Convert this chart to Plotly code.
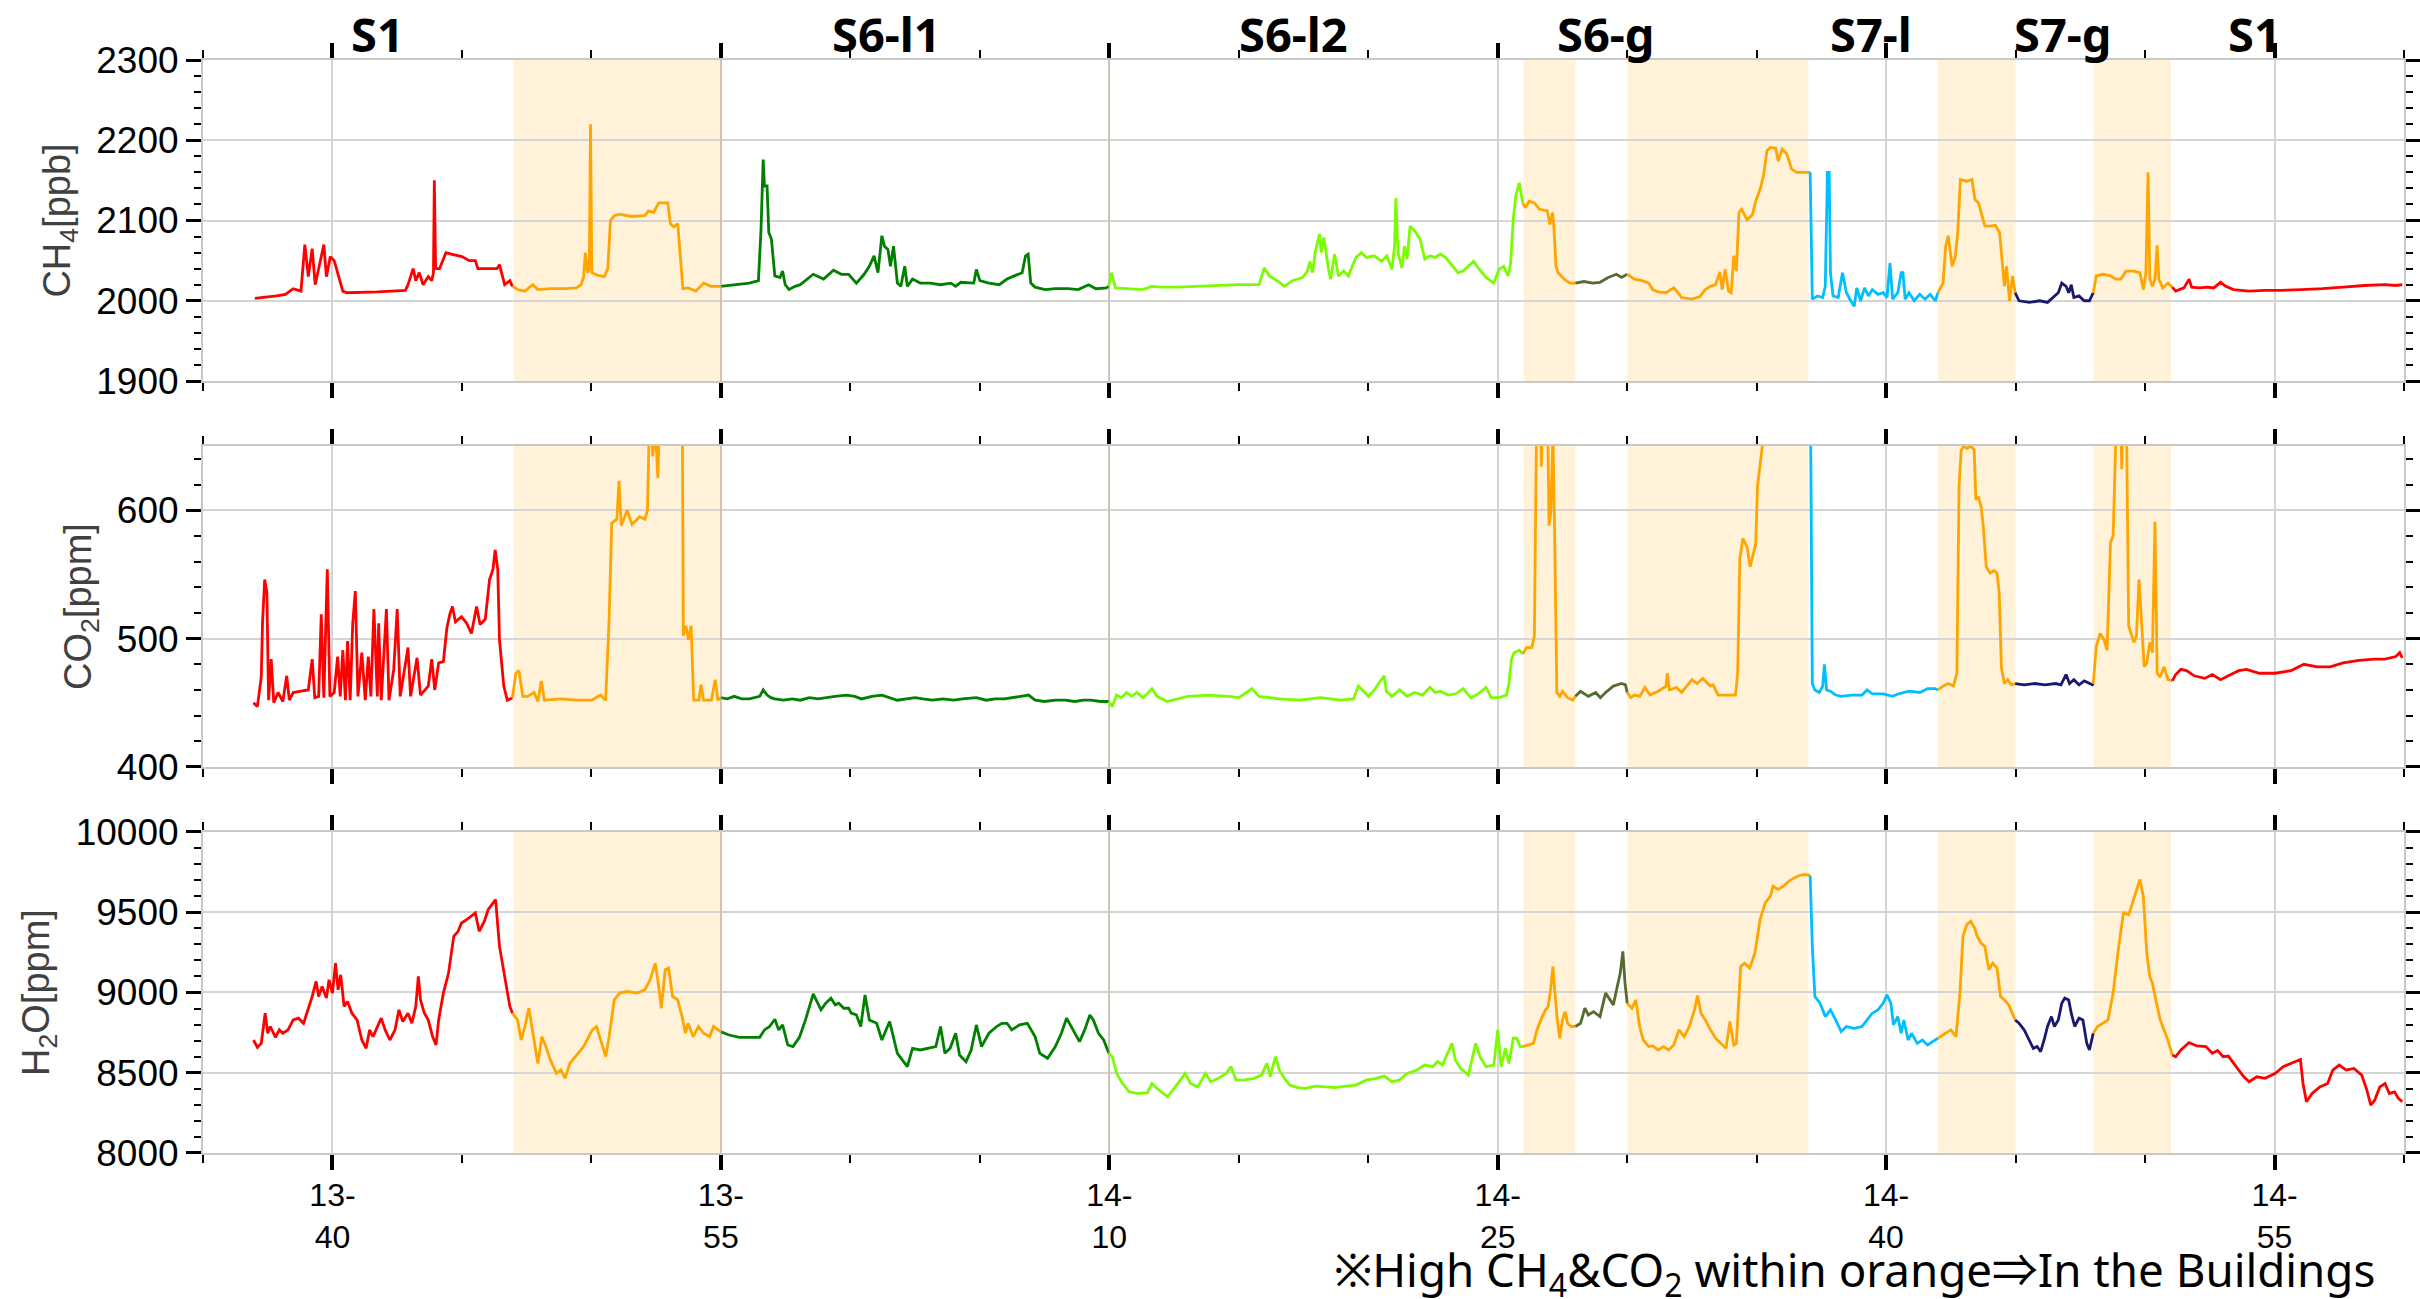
import pandas as pd
import plotly.graph_objects as go

DAY = "2024-01-01"
T0 = pd.Timestamp(f"{DAY} 13:35:00")   # time values below are seconds after 13:35:00

# ================= CH4 [ppb] =================
CH4_S1A_T = [120,144,170,191,209,227,236,244,253,260,268,280,286,295,304,315,324,333,404,469,475,487,493,501,510,522,530,534,536,539,548,563,575,600,617,631,637,664,681,687,699,711,717]
CH4_S1A_V = [2003,2004,2006,2008,2015,2012,2070,2030,2065,2020,2040,2070,2030,2055,2050,2030,2012,2010,2011,2013,2020,2040,2025,2035,2020,2030,2025,2035,2150,2040,2040,2060,2058,2055,2050,2050,2040,2040,2040,2045,2020,2025,2018]
CH4_O1_T = [717,729,746,764,776,805,841,865,876,882,886,891,895,898,901,913,930,938,944,953,965,994,1024,1032,1044,1056,1077,1083,1091,1100,1112,1124,1142,1160,1177,1199]
CH4_O1_V = [2018,2014,2012,2020,2014,2015,2015,2016,2020,2030,2060,2035,2040,2220,2035,2032,2030,2040,2100,2106,2108,2105,2106,2112,2110,2122,2122,2096,2092,2096,2015,2016,2012,2022,2018,2018]
CH4_S6L1_T = [1199,1231,1266,1287,1293,1298,1301,1307,1311,1317,1325,1337,1343,1349,1358,1372,1384,1414,1438,1461,1479,1496,1514,1532,1544,1555,1564,1573,1579,1587,1593,1600,1609,1617,1626,1632,1644,1662,1685,1709,1733,1744,1756,1786,1792,1800,1821,1845,1863,1880,1898,1906,1912,1918,1928,1951,1975,2004,2028,2052,2069,2093,2099]
CH4_S6L1_V = [2018,2020,2022,2025,2089,2176,2143,2143,2085,2077,2031,2029,2037,2020,2014,2018,2020,2033,2027,2038,2033,2033,2022,2033,2043,2056,2035,2081,2068,2064,2043,2068,2022,2018,2043,2018,2027,2022,2022,2020,2022,2018,2023,2022,2039,2025,2022,2020,2027,2031,2035,2056,2058,2022,2017,2014,2015,2015,2014,2020,2015,2016,2018]
CH4_S6L2_T = [2099,2105,2114,2140,2176,2199,2223,2258,2305,2353,2400,2447,2459,2471,2489,2506,2524,2548,2559,2565,2571,2577,2587,2591,2597,2608,2613,2622,2631,2643,2654,2666,2672,2684,2696,2714,2731,2743,2755,2761,2764,2769,2778,2784,2790,2797,2808,2820,2831,2843,2855,2867,2879,2896,2908,2920,2932,2944,2955,2973,2991,3003,3014,3024,3030,3036,3042,3050,3058]
CH4_S6L2_V = [2018,2035,2016,2015,2014,2018,2017,2017,2018,2019,2020,2020,2041,2031,2025,2018,2025,2029,2037,2049,2035,2060,2083,2060,2079,2039,2027,2058,2031,2037,2031,2047,2054,2060,2054,2056,2049,2056,2039,2068,2128,2060,2041,2068,2052,2093,2087,2077,2052,2056,2054,2058,2054,2043,2035,2037,2043,2049,2041,2029,2022,2039,2043,2031,2047,2101,2131,2147,2122]
CH4_O2_T = [3058,3064,3073,3085,3097,3115,3121,3127,3130,3135,3140,3144,3156,3168,3180]
CH4_O2_V = [2122,2116,2124,2122,2114,2112,2095,2110,2093,2043,2035,2033,2026,2022,2022]
CH4_S6G_T = [3180,3200,3220,3237,3256,3275,3287,3300]
CH4_S6G_V = [2022,2024,2022,2023,2029,2033,2029,2033]
CH4_O3_T = [3300,3317,3335,3350,3359,3372,3390,3408,3418,3426,3450,3468,3481,3493,3505,3515,3520,3527,3535,3541,3547,3553,3559,3565,3578,3590,3599,3608,3616,3624,3632,3644,3650,3659,3670,3681,3693,3711,3724]
CH4_O3_V = [2033,2027,2025,2022,2014,2011,2010,2016,2010,2004,2002,2005,2014,2018,2020,2036,2014,2039,2012,2010,2056,2037,2110,2114,2101,2107,2126,2139,2156,2187,2191,2190,2174,2189,2183,2164,2160,2160,2160]
CH4_S7L_T = [3724,3729,3741,3753,3759,3764,3768,3771,3777,3789,3799,3808,3818,3826,3832,3841,3850,3859,3868,3881,3893,3902,3909,3915,3927,3935,3939,3944,3953,3965,3978,3990,4002,4014,4020]
CH4_S7L_V = [2160,2002,2006,2004,2018,2160,2160,2035,2006,2004,2035,2010,2000,1993,2016,2000,2016,2006,2014,2008,2010,2004,2047,2002,2010,2035,2035,2002,2010,2000,2008,2002,2008,2000,2010]
CH4_O4_T = [4020,4032,4038,4044,4053,4060,4066,4072,4087,4099,4106,4114,4120,4129,4141,4153,4163,4169,4174,4179,4186,4193,4199]
CH4_O4_V = [2010,2022,2068,2081,2043,2054,2085,2151,2149,2151,2126,2122,2110,2093,2093,2094,2085,2047,2018,2043,2000,2031,2010]
CH4_S7G_T = [4199,4208,4232,4256,4274,4287,4299,4307,4317,4323,4329,4335,4347,4359,4371,4380]
CH4_S7G_V = [2010,2000,1998,2000,1998,2004,2010,2022,2018,2010,2020,2004,2006,2000,2000,2010]
CH4_O5_T = [4380,4387,4402,4420,4432,4444,4456,4474,4488,4496,4502,4507,4511,4517,4523,4528,4532,4541,4553,4563]
CH4_O5_V = [2010,2031,2033,2031,2027,2027,2037,2037,2035,2014,2035,2160,2027,2018,2027,2069,2027,2016,2022,2017]
CH4_S1B_T = [4563,4571,4590,4602,4608,4626,4644,4659,4675,4687,4705,4741,4778,4814,4862,4911,4959,5008,5056,5081,5096]
CH4_S1B_V = [2017,2012,2016,2027,2017,2016,2017,2016,2023,2018,2014,2012,2013,2013,2014,2015,2017,2019,2020,2019,2020]

# ================= CO2 [ppm] =================
CO2_S1A_T = [117,126,135,138,143,148,152,158,164,174,185,194,200,209,227,244,253,259,268,274,280,288,294,304,312,318,324,330,335,341,347,353,359,368,376,383,389,396,404,407,413,425,431,442,450,457,475,481,496,504,522,530,537,546,557,565,572,578,585,599,611,622,634,642,654,664,672,677,683,687,697,705,717]
CO2_S1A_V = [450,447,470,513,546,536,452,484,450,458,451,471,452,458,459,460,484,454,455,519,454,554,455,458,486,455,491,452,498,452,512,537,455,489,452,486,455,523,455,512,452,523,452,476,523,455,493,455,485,456,463,484,460,481,482,508,519,525,513,517,512,504,525,511,515,546,554,569,554,499,463,452,454]
CO2_O1_T = [717,725,732,741,752,767,776,784,791,829,865,901,921,933,941,947,959,964,969,983,994,1012,1024,1030,1036,1042,1048,1054,1060,1075,1100,1110,1113,1119,1125,1131,1137,1149,1154,1160,1178,1187,1193,1199]
CO2_O1_V = [454,473,475,455,455,458,451,467,452,453,452,452,456,452,515,590,593,623,588,600,589,595,593,600,700,642,665,625,700,720,720,715,502,510,499,510,452,452,464,452,452,468,452,454]
CO2_S6L1_T = [1199,1215,1231,1248,1266,1280,1290,1298,1307,1316,1325,1345,1365,1384,1405,1425,1443,1465,1491,1510,1526,1550,1573,1590,1609,1630,1650,1668,1690,1715,1739,1760,1792,1815,1835,1857,1880,1900,1913,1928,1950,1975,1998,2020,2040,2057,2080,2099]
CO2_S6L1_V = [454,453,455,453,453,454,455,460,456,454,453,452,453,452,454,453,454,455,456,455,453,455,456,454,452,453,454,453,452,453,452,453,454,452,453,453,454,455,456,452,451,452,452,451,452,452,451,451]
CO2_S6L2_T = [2099,2107,2117,2128,2140,2152,2164,2178,2188,2199,2211,2234,2282,2329,2376,2400,2418,2430,2447,2494,2541,2589,2636,2666,2677,2689,2701,2714,2725,2737,2742,2755,2773,2790,2808,2826,2843,2855,2867,2885,2903,2920,2938,2955,2973,2985,3003,3020,3026,3032,3038,3050,3058]
CO2_S6L2_V = [451,447,456,454,458,455,458,454,457,461,455,451,455,456,455,454,458,461,455,453,452,454,452,453,463,459,455,460,465,471,459,455,460,455,458,456,462,458,459,456,457,461,454,457,462,454,454,456,465,484,489,491,488]
CO2_O2_T = [3058,3067,3079,3085,3091,3097,3101,3107,3115,3119,3123,3128,3132,3137,3144,3150,3162,3174,3180]
CO2_O2_V = [488,493,493,502,700,720,634,700,690,588,598,660,580,458,455,459,454,452,455]
CO2_S6G_T = [3180,3192,3210,3227,3238,3250,3268,3287,3296,3300]
CO2_S6G_V = [455,459,455,458,454,458,463,465,464,458]
CO2_O3_T = [3300,3308,3317,3329,3341,3353,3372,3390,3393,3398,3414,3426,3438,3450,3462,3475,3493,3499,3511,3535,3551,3556,3561,3568,3578,3585,3592,3598,3602,3608,3614,3620,3662,3724]
CO2_O3_V = [458,454,456,455,462,456,459,463,473,460,462,458,463,468,465,469,463,464,456,456,456,473,562,578,571,556,566,574,619,634,652,690,720,720]
CO2_S7L_T = [3724,3729,3735,3745,3753,3757,3762,3771,3783,3796,3820,3844,3856,3868,3893,3915,3929,3953,3978,3996,4014,4020]
CO2_S7L_V = [720,465,460,458,463,480,460,459,456,455,456,456,460,457,457,455,457,459,458,461,461,460]
CO2_O4_T = [4020,4032,4044,4056,4064,4069,4074,4080,4087,4096,4104,4108,4113,4120,4125,4132,4141,4150,4157,4162,4167,4174,4182,4190,4199]
CO2_O4_V = [460,463,465,463,473,619,647,650,648,650,647,608,611,603,588,556,551,553,551,536,478,465,468,464,465]
CO2_S7G_T = [4199,4220,4244,4268,4293,4305,4317,4325,4335,4347,4359,4378,4380]
CO2_S7G_V = [465,464,465,464,465,464,472,465,468,464,467,464,465]
CO2_O5_T = [4380,4387,4396,4405,4412,4420,4426,4432,4436,4442,4446,4450,4456,4462,4474,4480,4486,4492,4498,4504,4511,4517,4523,4528,4535,4544,4553,4563]
CO2_O5_V = [465,494,504,499,491,575,580,632,700,700,632,690,700,510,497,502,546,512,478,481,497,489,591,473,470,478,468,467]
CO2_S1B_T = [4563,4571,4583,4596,4614,4638,4656,4675,4693,4717,4735,4765,4802,4838,4868,4899,4929,4959,4996,5032,5056,5081,5090,5096]
CO2_S1B_V = [467,472,476,475,471,469,472,468,471,475,476,473,473,475,480,478,478,481,483,484,484,486,489,485]

# ================= H2O [ppm] =================
H2O_S1A_T = [117,126,135,144,150,156,168,177,185,197,209,221,233,244,253,262,268,276,286,292,300,307,313,319,327,335,345,357,368,378,386,394,404,413,422,433,445,454,463,475,484,493,499,504,513,522,532,540,546,557,569,581,591,599,611,622,631,640,652,661,670,678,687,697,705,711,717]
H2O_S1A_V = [8704,8658,8683,8871,8746,8788,8721,8767,8746,8767,8829,8840,8808,8892,8975,9069,8975,9037,8965,9079,8996,9183,9017,9110,8913,8944,8871,8829,8704,8652,8767,8725,8788,8840,8767,8704,8767,8892,8819,8871,8808,8913,9100,8954,8871,8829,8725,8673,8829,8996,9121,9350,9381,9433,9454,9475,9496,9381,9444,9517,9548,9579,9287,9121,8996,8913,8871]
H2O_O1_T = [717,729,737,746,755,764,776,785,796,805,819,829,839,850,862,874,882,894,902,912,924,933,941,953,965,983,1006,1024,1036,1048,1056,1062,1071,1079,1088,1100,1110,1118,1124,1136,1148,1160,1174,1183,1199]
H2O_O1_V = [8871,8829,8704,8788,8902,8746,8558,8725,8652,8579,8496,8517,8465,8558,8600,8642,8663,8725,8767,8788,8673,8600,8725,8954,8996,9006,8996,9017,9079,9183,9037,8902,9142,9152,8975,8954,8850,8746,8808,8725,8788,8746,8725,8788,8756]
H2O_S6L1_T = [1199,1219,1243,1272,1290,1301,1313,1325,1334,1343,1355,1367,1382,1396,1414,1432,1443,1455,1465,1473,1485,1496,1502,1514,1524,1534,1544,1561,1573,1591,1609,1632,1644,1662,1680,1698,1709,1719,1731,1744,1753,1768,1780,1792,1804,1821,1839,1851,1863,1874,1892,1910,1928,1939,1957,1975,1989,2001,2016,2031,2043,2055,2063,2075,2087,2099]
H2O_S6L1_V = [8756,8735,8721,8721,8721,8767,8788,8833,8767,8798,8673,8663,8721,8829,8992,8892,8933,8965,8923,8933,8902,8902,8871,8860,8788,8985,8829,8808,8704,8819,8621,8538,8652,8642,8652,8663,8788,8621,8652,8746,8610,8569,8642,8798,8663,8746,8788,8808,8808,8767,8798,8808,8725,8621,8590,8663,8746,8840,8767,8694,8767,8860,8829,8746,8704,8621]
H2O_S6L2_T = [2099,2107,2117,2128,2146,2164,2188,2199,2211,2223,2235,2253,2264,2276,2288,2305,2323,2335,2353,2371,2382,2394,2412,2435,2453,2465,2473,2485,2494,2506,2518,2536,2553,2577,2601,2624,2648,2671,2695,2719,2737,2755,2772,2790,2813,2831,2849,2861,2872,2884,2894,2902,2914,2932,2941,2949,2959,2973,2991,3000,3008,3018,3026,3036,3044,3052,3058]
H2O_S6L2_V = [8621,8600,8496,8444,8381,8371,8375,8433,8402,8375,8350,8412,8454,8496,8433,8412,8496,8444,8465,8496,8538,8454,8454,8465,8485,8558,8475,8600,8517,8465,8423,8408,8402,8417,8412,8408,8417,8423,8454,8465,8479,8444,8454,8496,8517,8548,8538,8569,8548,8621,8683,8579,8527,8485,8600,8683,8600,8538,8548,8767,8538,8652,8558,8715,8715,8663,8663]
H2O_O2_T = [3058,3073,3083,3091,3103,3111,3117,3123,3128,3132,3138,3144,3150,3156,3162,3170,3180]
H2O_O2_V = [8663,8673,8683,8767,8850,8892,8913,9027,9162,9017,8829,8715,8829,8881,8808,8788,8788]
H2O_S6G_T = [3180,3192,3202,3210,3222,3237,3250,3260,3268,3277,3284,3290,3295,3300]
H2O_S6G_V = [8788,8808,8902,8860,8881,8850,8996,8954,8923,9037,9121,9256,9058,8933]
H2O_O3_T = [3300,3311,3320,3329,3337,3350,3359,3372,3384,3396,3408,3420,3432,3444,3456,3463,3471,3481,3493,3505,3517,3529,3538,3547,3553,3563,3572,3584,3596,3608,3620,3632,3638,3650,3662,3675,3687,3699,3711,3724]
H2O_O3_V = [8933,8902,8954,8788,8704,8663,8667,8642,8663,8642,8673,8767,8725,8788,8892,8981,8871,8829,8767,8715,8683,8652,8819,8673,8683,9162,9183,9152,9246,9454,9558,9600,9662,9642,9662,9694,9714,9729,9735,9729]
H2O_S7L_T = [3724,3729,3735,3747,3759,3771,3783,3796,3808,3826,3844,3856,3868,3881,3893,3902,3911,3917,3927,3935,3941,3951,3959,3972,3984,3996,4008,4020]
H2O_S7L_V = [9729,9287,8975,8933,8850,8892,8829,8756,8788,8777,8788,8829,8871,8892,8933,8985,8933,8798,8850,8746,8829,8704,8746,8683,8704,8673,8694,8715]
H2O_O4_T = [4020,4038,4050,4062,4071,4078,4087,4096,4105,4111,4120,4129,4138,4147,4157,4165,4174,4184,4192,4199]
H2O_O4_V = [8715,8746,8767,8725,8996,9350,9423,9444,9402,9350,9308,9287,9142,9183,9152,8975,8954,8923,8871,8829]
H2O_S7G_T = [4199,4208,4220,4232,4241,4250,4258,4266,4274,4283,4290,4299,4307,4314,4323,4329,4337,4347,4356,4365,4371,4380]
H2O_S7G_V = [8829,8808,8767,8704,8652,8663,8631,8704,8788,8850,8788,8829,8933,8965,8954,8871,8788,8840,8829,8683,8642,8746]
H2O_O5_T = [4380,4390,4402,4414,4426,4438,4450,4462,4471,4480,4488,4496,4504,4511,4517,4525,4535,4544,4553,4563]
H2O_O5_V = [8746,8788,8808,8829,8996,9267,9496,9485,9558,9642,9704,9600,9246,9100,9058,8954,8829,8767,8704,8610]
H2O_S1B_T = [4563,4571,4583,4602,4620,4641,4656,4668,4681,4693,4711,4729,4741,4759,4778,4802,4820,4838,4860,4866,4874,4887,4905,4923,4935,4950,4966,4984,5002,5014,5023,5032,5044,5056,5066,5078,5087,5096]
H2O_S1B_V = [8610,8600,8642,8688,8667,8663,8621,8638,8600,8604,8538,8475,8444,8475,8465,8496,8538,8558,8583,8433,8319,8371,8412,8433,8517,8548,8517,8527,8485,8392,8298,8329,8412,8433,8371,8381,8340,8319]

# ================= segments / styling data =================
GASES = ["CH4", "CO2", "H2O"]
SEGMENTS = ["S1A", "O1", "S6L1", "S6L2", "O2", "S6G", "O3", "S7L", "O4", "S7G", "O5", "S1B"]
SEG_COLORS = ["#FF0000", "#FFA500", "#008000", "#7CFC00", "#FFA500", "#556B2F",
              "#FFA500", "#00BFFF", "#FFA500", "#191970", "#FFA500", "#FF0000"]

Y_RANGES = [[1900, 2300], [400, 650], [8000, 10000]]
Y_DTICK = [100, 100, 500]
Y_MINOR = [20, 20, 100]
Y_TITLES = ["CH<sub>4</sub>[ppb]", "CO<sub>2</sub>[ppm]", "H<sub>2</sub>O[ppm]"]
Y_DOMAINS = [[0.7063, 1.0], [0.3532, 0.6468], [0.0, 0.2937]]

SHADE_START = ["13:47:00", "14:26:00", "14:30:00", "14:42:00", "14:48:00"]
SHADE_END = ["13:55:00", "14:28:00", "14:37:00", "14:45:00", "14:51:00"]
TAN_LINES = ["13:55:00", "14:10:00"]

LABEL_TEXT = ["S1", "S6-l1", "S6-l2", "S6-g", "S7-l", "S7-g", "S1"]
LABEL_TIME = ["13:41:45", "14:01:24", "14:17:06", "14:29:10", "14:39:26", "14:46:51", "14:54:13"]

NOTE = "※High CH<sub>4</sub>&amp;CO<sub>2</sub> within orange⇒In the Buildings"


def ts(hms):
    return f"{DAY} {hms}"


SERIES = {(g, s): (globals()[f"{g}_{s}_T"], globals()[f"{g}_{s}_V"]) for g in GASES for s in SEGMENTS}

fig = go.Figure()
for gi, gas in enumerate(GASES):
    sfx = "" if gi == 0 else str(gi + 1)
    for seg, col in zip(SEGMENTS, SEG_COLORS):
        t, v = SERIES[(gas, seg)]
        x = T0 + pd.to_timedelta(t, unit="s")
        fig.add_trace(go.Scatter(x=x, y=v, mode="lines",
                                 line=dict(color=col, width=2.8),
                                 xaxis="x" + sfx, yaxis="y" + sfx,
                                 showlegend=False, hoverinfo="skip"))

GRID = "#d5d5d5"
LINE = "#c8c8c8"
FONT = "Liberation Sans, Arial, sans-serif"

layout = dict(width=2420, height=1299,
              margin=dict(l=203, r=16, t=60, b=146),
              paper_bgcolor="white", plot_bgcolor="white",
              showlegend=False, template="none")

for gi in range(3):
    sfx = "" if gi == 0 else str(gi + 1)
    xa = dict(domain=[0, 1], anchor="y" + sfx, type="date",
              range=[ts("13:35:00"), ts("15:00:00")],
              tick0=ts("13:40:00"), dtick=900000, tickformat="%H-<br>%M",
              ticks="outside", ticklen=15, tickwidth=4, tickcolor="black",
              minor=dict(tick0=ts("13:35:00"), dtick=300000, ticks="outside",
                         ticklen=8, tickwidth=2, tickcolor="black", showgrid=False),
              showgrid=True, gridcolor=GRID, gridwidth=1.5,
              showline=True, linecolor=LINE, linewidth=2, mirror="ticks",
              zeroline=False, showticklabels=(gi == 2), ticklabelstandoff=-2,
              tickfont=dict(family=FONT, size=32, color="black"))
    if gi > 0:
        xa["matches"] = "x"
    ya = dict(domain=Y_DOMAINS[gi], anchor="x" + sfx, range=Y_RANGES[gi],
              tick0=Y_RANGES[gi][0], dtick=Y_DTICK[gi], tickformat="d",
              ticks="outside", ticklen=15, tickwidth=3, tickcolor="black",
              minor=dict(tick0=Y_RANGES[gi][0], dtick=Y_MINOR[gi], ticks="outside",
                         ticklen=7, tickwidth=2, tickcolor="black", showgrid=False),
              showgrid=True, gridcolor=GRID, gridwidth=1.5,
              showline=True, linecolor=LINE, linewidth=2, mirror="ticks",
              zeroline=False, tickfont=dict(family=FONT, size=37, color="black"),
              title=dict(text=Y_TITLES[gi], standoff=14,
                         font=dict(family=FONT, size=38, color="#404040")))
    layout["xaxis" + sfx] = xa
    layout["yaxis" + sfx] = ya

shapes = []
for gi in range(3):
    sfx = "" if gi == 0 else str(gi + 1)
    for a, b in zip(SHADE_START, SHADE_END):
        shapes.append(dict(type="rect", xref="x" + sfx, yref=f"y{sfx} domain",
                           x0=ts(a), x1=ts(b), y0=0, y1=1,
                           fillcolor="rgba(255,165,0,0.15)", line=dict(width=0), layer="below"))
    for tl in TAN_LINES:
        shapes.append(dict(type="line", xref="x" + sfx, yref=f"y{sfx} domain",
                           x0=ts(tl), x1=ts(tl), y0=0, y1=1,
                           line=dict(color="rgba(210,180,140,0.7)", width=1.5), layer="above"))
layout["shapes"] = shapes

annotations = []
for txt, tm in zip(LABEL_TEXT, LABEL_TIME):
    annotations.append(dict(x=ts(tm), y=1.0238, xref="x", yref="paper", text=txt,
                            showarrow=False, xanchor="center", yanchor="middle",
                            font=dict(family="Noto Sans, sans-serif", size=47, color="black", weight="bold")))
annotations.append(dict(x=0.9877, y=-0.1092, xref="paper", yref="paper", text=NOTE,
                        showarrow=False, xanchor="right", yanchor="middle",
                        font=dict(family="Noto Sans, Noto Sans CJK JP, sans-serif", size=45.7, color="black")))
layout["annotations"] = annotations

fig.update_layout(**layout)
fig.write_html("out.html", post_script="document.body.style.margin='0';")
